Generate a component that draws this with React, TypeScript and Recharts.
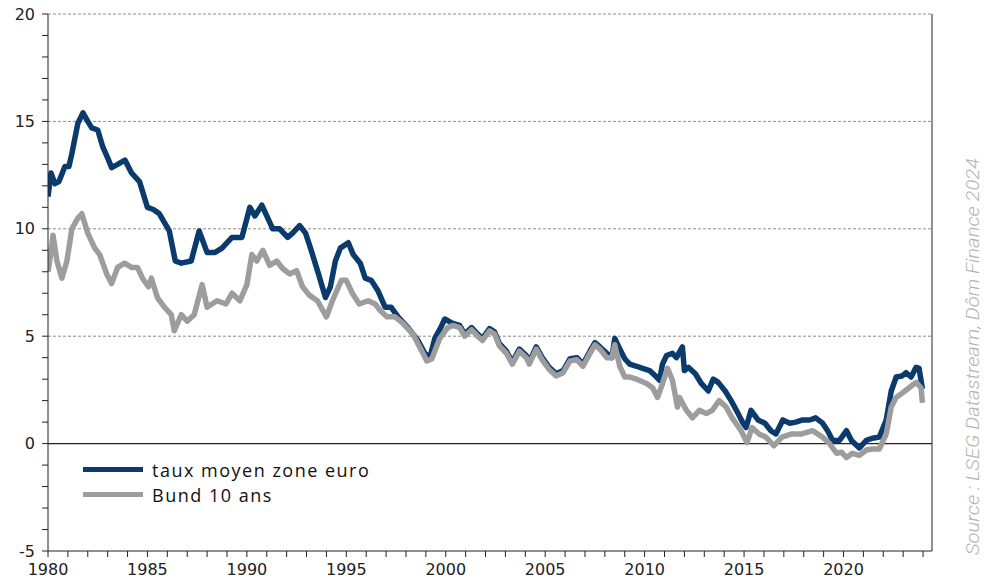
import { LineChart, Line, XAxis, YAxis, ReferenceLine } from 'recharts'

// Taux à 10 ans : moyenne zone euro vs Bund allemand (%)
const euroYears = [
  1980.0, 1980.15, 1980.35, 1980.55, 1980.85, 1981.05, 1981.2, 1981.5, 1981.76, 1982.0,
  1982.2, 1982.5, 1982.76, 1983.0, 1983.2, 1983.5, 1983.87, 1984.2, 1984.6, 1985.0,
  1985.3, 1985.6, 1986.1, 1986.4, 1986.7, 1987.2, 1987.6, 1988.0, 1988.4, 1988.75,
  1989.25, 1989.75, 1990.15, 1990.4, 1990.75, 1991.0, 1991.3, 1991.65, 1992.05, 1992.3,
  1992.65, 1992.95, 1993.2, 1993.6, 1993.95, 1994.2, 1994.45, 1994.7, 1995.1, 1995.35,
  1995.7, 1995.95, 1996.25, 1996.6, 1996.95, 1997.25, 1997.6, 1998.1, 1998.6, 1998.95,
  1999.2, 1999.45, 1999.75, 1999.95, 2000.35, 2000.7, 2000.95, 2001.3, 2001.6, 2001.85,
  2002.2, 2002.45, 2002.7, 2003.05, 2003.35, 2003.7, 2004.05, 2004.2, 2004.55, 2004.85,
  2005.2, 2005.55, 2005.9, 2006.25, 2006.6, 2006.9, 2007.25, 2007.5, 2007.75, 2008.1,
  2008.35, 2008.5, 2008.75, 2009.0, 2009.25, 2009.6, 2009.9, 2010.25, 2010.6, 2010.75,
  2010.9, 2011.1, 2011.4, 2011.6, 2011.9, 2012.0, 2012.2, 2012.55, 2012.85, 2013.2,
  2013.45, 2013.7, 2014.05, 2014.35, 2014.7, 2014.95, 2015.1, 2015.35, 2015.7, 2016.05,
  2016.35, 2016.6, 2016.95, 2017.3, 2017.6, 2017.95, 2018.3, 2018.6, 2018.95, 2019.2,
  2019.45, 2019.8, 2020.15, 2020.4, 2020.8, 2021.15, 2021.45, 2021.8, 2022.15, 2022.4,
  2022.65, 2022.95, 2023.15, 2023.4, 2023.65, 2023.8, 2023.97,
]
const euroRates = [
  11.5, 12.6, 12.1, 12.2, 12.9, 12.9, 13.5, 14.9, 15.4, 15.0,
  14.7, 14.6, 13.8, 13.3, 12.85, 13.0, 13.2, 12.6, 12.2, 11.0,
  10.9, 10.7, 9.9, 8.5, 8.4, 8.5, 9.9, 8.9, 8.9, 9.1,
  9.6, 9.6, 11.0, 10.6, 11.1, 10.6, 10.0, 10.0, 9.6, 9.8,
  10.15, 9.8, 9.1, 7.9, 6.8, 7.3, 8.5, 9.1, 9.35, 8.8,
  8.4, 7.7, 7.6, 7.1, 6.35, 6.35, 5.9, 5.4, 4.8, 4.2,
  4.0, 4.9, 5.4, 5.8, 5.6, 5.5, 5.1, 5.4, 5.1, 4.9,
  5.35, 5.2, 4.65, 4.3, 3.8, 4.4, 4.1, 3.8, 4.5, 4.0,
  3.55, 3.25, 3.4, 3.95, 4.0, 3.7, 4.3, 4.7, 4.5, 4.2,
  4.0, 4.9, 4.4, 3.95, 3.7, 3.6, 3.5, 3.4, 3.1, 2.95,
  3.7, 4.1, 4.2, 4.0, 4.5, 3.4, 3.55, 3.25, 2.8, 2.45,
  3.0, 2.85, 2.45, 2.0, 1.4, 0.95, 0.75, 1.55, 1.1, 0.95,
  0.6, 0.45, 1.1, 0.95, 1.0, 1.1, 1.1, 1.2, 0.95, 0.6,
  0.15, 0.15, 0.6, 0.15, -0.2, 0.15, 0.25, 0.3, 1.1, 2.45,
  3.1, 3.15, 3.3, 3.1, 3.55, 3.5, 2.55,
]

const bundYears = [
  1980.0, 1980.1, 1980.25, 1980.45, 1980.7, 1980.95, 1981.2, 1981.5, 1981.7, 1982.0,
  1982.35, 1982.6, 1982.95, 1983.2, 1983.5, 1983.85, 1984.2, 1984.5, 1984.75, 1985.05,
  1985.2, 1985.5, 1985.85, 1986.2, 1986.35, 1986.7, 1987.0, 1987.35, 1987.75, 1988.0,
  1988.5, 1988.95, 1989.25, 1989.65, 1990.0, 1990.25, 1990.5, 1990.8, 1991.15, 1991.5,
  1991.8, 1992.15, 1992.5, 1992.8, 1993.15, 1993.55, 1994.0, 1994.3, 1994.75, 1995.0,
  1995.3, 1995.65, 1996.1, 1996.45, 1996.7, 1997.05, 1997.45, 1997.85, 1998.35, 1998.8,
  1999.05, 1999.3, 1999.7, 2000.1, 2000.35, 2000.7, 2000.95, 2001.3, 2001.6, 2001.85,
  2002.2, 2002.45, 2002.7, 2003.05, 2003.35, 2003.7, 2004.05, 2004.2, 2004.55, 2004.85,
  2005.2, 2005.55, 2005.9, 2006.25, 2006.6, 2006.9, 2007.25, 2007.5, 2007.75, 2008.1,
  2008.35, 2008.5, 2008.75, 2009.0, 2009.25, 2009.6, 2010.1, 2010.4, 2010.65, 2010.9,
  2011.15, 2011.4, 2011.65, 2011.75, 2012.1, 2012.4, 2012.75, 2013.1, 2013.4, 2013.75,
  2014.1, 2014.4, 2014.85, 2015.15, 2015.4, 2015.75, 2016.1, 2016.5, 2016.9, 2017.4,
  2017.9, 2018.45, 2018.95, 2019.3, 2019.65, 2019.9, 2020.15, 2020.45, 2020.8, 2021.15,
  2021.45, 2021.8, 2022.15, 2022.4, 2022.65, 2022.95, 2023.3, 2023.65, 2023.9, 2023.97,
]
const bundRates = [
  8.0, 8.6, 9.7, 8.5, 7.7, 8.5, 10.0, 10.5, 10.7, 9.8,
  9.1, 8.8, 7.9, 7.45, 8.2, 8.4, 8.2, 8.2, 7.7, 7.3,
  7.7, 6.8, 6.35, 6.0, 5.25, 6.0, 5.7, 6.0, 7.4, 6.35,
  6.65, 6.5, 7.0, 6.65, 7.4, 8.8, 8.5, 9.0, 8.3, 8.5,
  8.15, 7.9, 8.05, 7.3, 6.9, 6.65, 5.9, 6.65, 7.6, 7.6,
  7.0, 6.5, 6.65, 6.5, 6.2, 5.9, 5.9, 5.6, 5.1, 4.3,
  3.85, 3.95, 4.9, 5.4, 5.5, 5.4, 5.0, 5.3, 5.0, 4.8,
  5.25, 5.1, 4.55, 4.2, 3.7, 4.3, 4.0, 3.7, 4.4, 3.9,
  3.45, 3.15, 3.3, 3.85, 3.9, 3.6, 4.2, 4.6, 4.4, 4.0,
  4.0, 4.6, 3.6, 3.1, 3.1, 3.0, 2.8, 2.6, 2.15, 2.8,
  3.5, 2.95, 1.7, 2.15, 1.55, 1.2, 1.55, 1.4, 1.55, 2.0,
  1.7, 1.2, 0.6, 0.05, 0.75, 0.45, 0.3, -0.1, 0.3, 0.45,
  0.45, 0.6, 0.3, 0.0, -0.45, -0.4, -0.65, -0.45, -0.55, -0.3,
  -0.25, -0.25, 0.45, 1.7, 2.15, 2.35, 2.6, 2.85, 2.6, 1.9,
]

const xTicks = [
  1980, 1981, 1982, 1983, 1984, 1985, 1986, 1987, 1988, 1989, 1990, 1991, 1992, 1993, 1994,
  1995, 1996, 1997, 1998, 1999, 2000, 2001, 2002, 2003, 2004, 2005, 2006, 2007, 2008, 2009,
  2010, 2011, 2012, 2013, 2014, 2015, 2016, 2017, 2018, 2019, 2020, 2021, 2022, 2023, 2024,
]
const yTicks = [-5, -4, -3, -2, -1, 0, 1, 2, 3, 4, 5, 6, 7, 8, 9, 10, 11, 12, 13, 14, 15, 16, 17, 18, 19, 20]
const gridValues = [5, 10, 15, 20]
const seriesNames = ['taux moyen zone euro', 'Bund 10 ans']

const euroData = euroYears.map((year, i) => ({ year, rate: euroRates[i] }))
const bundData = bundYears.map((year, i) => ({ year, rate: bundRates[i] }))

const EURO = '#0b3a6d'
const BUND = '#9d9d9d'
const seriesColors = [EURO, BUND]
const tickFont = { fontFamily: 'DejaVu Sans', fontSize: 16, fill: '#222' }

const everyFive = (v: number) => (v % 5 === 0 ? String(v) : '')

function LegendBox() {
  return (
    <div
      style={{
        position: 'absolute',
        left: 83,
        top: 457,
        fontFamily: 'Open Sans',
        fontSize: 18,
        letterSpacing: 1.5,
        color: '#111',
      }}
    >
      {seriesNames.map((name, i) => (
        <div key={name} style={{ display: 'flex', alignItems: 'center', height: 25 }}>
          <span
            style={{ display: 'inline-block', width: 60, height: 5, background: seriesColors[i], marginRight: 9 }}
          />
          <span>{name}</span>
        </div>
      ))}
    </div>
  )
}

export default function App() {
  return (
    <div style={{ position: 'absolute', left: 0, top: 0, width: 987, height: 580, background: '#fff' }}>
      <LineChart width={987} height={580} margin={{ top: 14, right: 0, bottom: 0, left: 0 }}>
        {gridValues.map((v) => (
          <ReferenceLine key={v} yAxisId="left" y={v} stroke="#8c8c8c" strokeDasharray="3 2" />
        ))}
        <ReferenceLine yAxisId="left" y={0} stroke="#222" strokeWidth={1.2} />
        <XAxis
          dataKey="year"
          type="number"
          domain={[1980, 2024.45]}
          ticks={xTicks}
          interval={0}
          tickFormatter={everyFive}
          allowDataOverflow
          height={29}
          stroke="#222"
          tickSize={6}
          tickMargin={7}
          tick={tickFont}
        />
        <YAxis
          yAxisId="left"
          domain={[-5, 20]}
          ticks={yTicks}
          interval={0}
          tickFormatter={everyFive}
          width={48}
          stroke="#222"
          tickSize={6}
          tickMargin={7}
          tick={tickFont}
        />
        <YAxis
          yAxisId="right"
          orientation="right"
          domain={[-5, 20]}
          ticks={yTicks}
          interval={0}
          tickFormatter={everyFive}
          width={55}
          stroke="#222"
          tickSize={6}
          tickMargin={5}
          tick={tickFont}
        />
        <Line
          yAxisId="left"
          data={euroData}
          dataKey="rate"
          name={seriesNames[0]}
          type="linear"
          stroke={EURO}
          strokeWidth={5.5}
          strokeLinejoin="round"
          dot={false}
          isAnimationActive={false}
        />
        <Line
          yAxisId="left"
          data={bundData}
          dataKey="rate"
          name={seriesNames[1]}
          type="linear"
          stroke={BUND}
          strokeWidth={5.5}
          strokeLinejoin="round"
          dot={false}
          isAnimationActive={false}
        />
      </LineChart>
      <LegendBox />
      <svg width={30} height={580} style={{ position: 'absolute', left: 957, top: 0 }}>
        <text
          transform="translate(22, 555) rotate(-90)"
          fontFamily="Roboto"
          fontStyle="italic"
          fontWeight={300}
          fontSize={18}
          fill="#b3b3b3"
          textLength={397}
          lengthAdjust="spacingAndGlyphs"
        >
          Source : LSEG Datastream, Dôm Finance 2024
        </text>
      </svg>
    </div>
  )
}
